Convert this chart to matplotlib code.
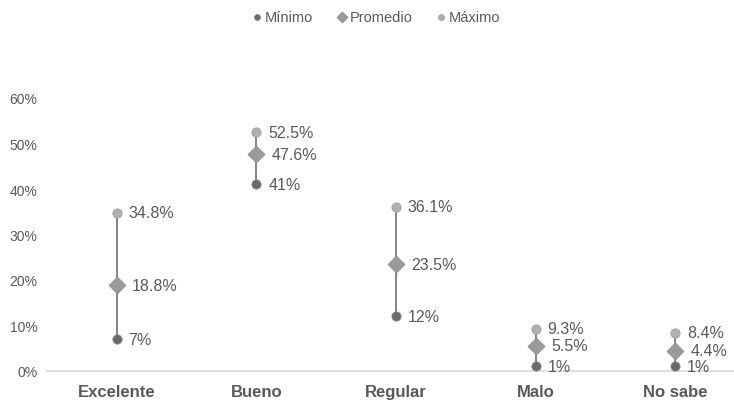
import matplotlib.pyplot as plt
import numpy as np

plt.rcParams['font.family'] = ['Liberation Sans', 'DejaVu Sans']

categorias = ["Excelente", "Bueno", "Regular", "Malo", "No sabe"]
minimo = [7.0, 41.0, 12.0, 1.0, 1.0]
promedio = [18.8, 47.6, 23.5, 5.5, 4.4]
maximo = [34.8, 52.5, 36.1, 9.3, 8.4]
y_ticks = [0, 10, 20, 30, 40, 50, 60]

TXT = "#595959"

fig = plt.figure(figsize=(7.34, 4.02), dpi=100)
ax = fig.add_axes([47 / 734, 30 / 402, 698 / 734, 273 / 402])

x = np.arange(len(categorias))

# barra vertical entre el mínimo y el máximo
ax.vlines(x, minimo, maximo, color="#7a7a7a", linewidth=1.3, zorder=1)

ax.scatter(x, minimo, marker="o", s=45, color="#6a6a6a", edgecolors="#8a8a8a",
           linewidths=0.5, zorder=3, label="Mínimo")
ax.scatter(x, promedio, marker="D", s=75, color="#9a9a9a", edgecolors="#888888",
           linewidths=0.5, zorder=3, label="Promedio")
ax.scatter(x, maximo, marker="o", s=45, color="#b0b0b0", edgecolors="#9a9a9a",
           linewidths=0.5, zorder=3, label="Máximo")

def fmt(v):
    return f"{v:g}%"

for i in range(len(categorias)):
    ax.annotate(fmt(minimo[i]), (x[i], minimo[i]), xytext=(8.5, 0), textcoords="offset points",
                va="center", ha="left", fontsize=11.5, color=TXT)
    ax.annotate(fmt(promedio[i]), (x[i], promedio[i]), xytext=(11, 0), textcoords="offset points",
                va="center", ha="left", fontsize=11.5, color=TXT)
    ax.annotate(fmt(maximo[i]), (x[i], maximo[i]), xytext=(8.5, 0), textcoords="offset points",
                va="center", ha="left", fontsize=11.5, color=TXT)

ax.set_xlim(-0.5, len(categorias) - 0.5)
ax.set_ylim(0, 60)
ax.set_yticks(y_ticks)
ax.set_yticklabels([f"{t}%" for t in y_ticks], fontsize=10, color=TXT)
ax.set_xticks(x)
ax.set_xticklabels(categorias, fontsize=12, fontweight="bold", color=TXT)
ax.tick_params(axis="both", length=0)
ax.tick_params(axis="x", pad=9.5)
ax.tick_params(axis="y", pad=7)

for side in ["top", "right", "left"]:
    ax.spines[side].set_visible(False)
ax.spines["bottom"].set_color("#d9d9d9")
ax.spines["bottom"].set_linewidth(1.2)
ax.spines["bottom"].set_zorder(0)

leg = fig.legend(loc="center", bbox_to_anchor=(0.512, 1 - 18 / 402), ncol=3, frameon=False,
                 fontsize=10.5, handletextpad=0.1, columnspacing=1.6, markerscale=0.65,
                 handlelength=0.8)
for t in leg.get_texts():
    t.set_color(TXT)

fig.savefig("out.png", dpi=100)
